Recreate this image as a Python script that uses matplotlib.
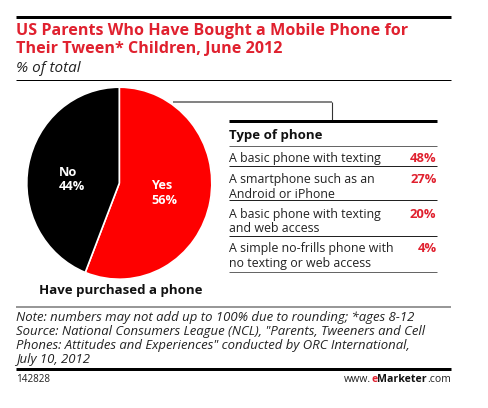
import matplotlib
matplotlib.use("Agg")
import matplotlib.pyplot as plt

W, H = 489, 408
pie_labels = ["Yes", "No"]
pie_values = [56, 44]
pie_colors = ["#fe0000", "#000000"]
phone_types = ["A basic phone with texting",
               "A smartphone such as an\nAndroid or iPhone",
               "A basic phone with texting\nand web access",
               "A simple no-frills phone with\nno texting or web access"]
phone_values = [48, 27, 20, 4]
title_lines = ["US Parents Who Have Bought a Mobile Phone for", "Their Tween* Children, June 2012"]
note_lines = ["Note: numbers may not add up to 100% due to rounding; *ages 8-12",
              "Source: National Consumers League (NCL), \"Parents, Tweeners and Cell",
              "Phones: Attitudes and Experiences\" conducted by ORC International,",
              "July 10, 2012"]

RED = "#e0212f"
TXT = "#222222"
plt.rcParams["font.family"] = ["Open Sans", "DejaVu Sans"]

fig = plt.figure(figsize=(W / 100, H / 100), dpi=100, facecolor="white")
bg = fig.add_axes([0, 0, 1, 1])
bg.set_xlim(0, W)
bg.set_ylim(H, 0)
bg.axis("off")
bg.set_zorder(2)

def hline(x0, x1, y, lw, color="black"):
    bg.plot([x0, x1], [y, y], color=color, lw=lw * 0.72, solid_capstyle="butt")

# frame rules
hline(16, 451, 16.5, 3)
hline(16, 451, 79.5, 1)
hline(16, 451, 306.5, 1.5, "#777777")
hline(16, 451, 368.5, 3)

# title
for i, s in enumerate(title_lines):
    bg.text(16, 35 + i * 17.7, s, color=RED, fontsize=11.6, fontweight="bold", va="baseline", ha="left")
bg.text(16, 72, "% of total", color=TXT, fontsize=11, style="italic", va="baseline", ha="left")

# pie (the reference is slightly taller than wide)
cx, cy, rx, ry = 119.3, 183.2, 92.5, 96
ax = fig.add_axes([(cx - rx) / W, 1 - (cy + ry) / H, 2 * rx / W, 2 * ry / H])
ax.pie(pie_values, colors=pie_colors, startangle=90, counterclock=False, radius=1,
       wedgeprops=dict(edgecolor="white", linewidth=1.2, clip_on=False))
ax.set_xlim(-1, 1)
ax.set_ylim(-1, 1)
ax.set_aspect("auto")
ax.patch.set_alpha(0)

label_pos = [(151, 189.3), (59, 175.7)]
for name, val, (lx, ly) in zip(pie_labels, pie_values, label_pos):
    bg.text(lx, ly, name, color="white", fontsize=9.2, fontweight="bold", ha="left", va="baseline")
    bg.text(lx, ly + 14.8, f"{val}%", color="white", fontsize=9.2, fontweight="bold", ha="left", va="baseline")
bg.text(120.5, 294, "Have purchased a phone", color="#111111", fontsize=9.5, fontweight="bold",
        ha="center", va="baseline")

# connector
bg.plot([173, 332.4], [102, 102], color="#777777", lw=1.3, solid_capstyle="butt")
bg.plot([332.4, 332.4], [101.5, 120], color="#333333", lw=0.8, solid_capstyle="butt")

# table
X0, X1 = 229, 436.5
hline(X0, X1, 121, 3)
bg.text(X0, 139.5, "Type of phone", color="#111111", fontsize=9.5, fontweight="bold", va="baseline")
hline(X0, X1, 145.7, 1, "#666666")
rule_ys = [166.3, 200.3, 235.7, 272]
first_base = [162, 182.7, 217.7, 251.7]
for i, (label, val) in enumerate(zip(phone_types, phone_values)):
    for j, line in enumerate(label.split("\n")):
        bg.text(X0, first_base[i] + j * 14.8, line, color=TXT, fontsize=8.9, va="baseline")
    bg.text(X1, first_base[i], f"{val}%", color=RED, fontsize=9.4, fontweight="bold", ha="right", va="baseline")
    hline(X0, X1, rule_ys[i], 1, "#222222" if i < 3 else "#666666")

# notes
for i, s in enumerate(note_lines):
    bg.text(16, 320.7 + i * 14.2, s, color=TXT, fontsize=9.48, style="italic", va="baseline")
bg.text(16, 382, "142828", color=TXT, fontsize=7.1, va="baseline")
FS = 7.6
t = bg.text(451, 382, ".com", color=TXT, fontsize=FS, ha="right", va="baseline")
fig.canvas.draw()
xr = t.get_window_extent().x0
t2 = bg.annotate("Marketer", xy=(xr, H - 382), xycoords="figure pixels", color="#111111", fontsize=FS,
                 fontweight="bold", ha="right", va="baseline")
xr = t2.get_window_extent().x0
t3 = bg.annotate("e", xy=(xr, H - 382), xycoords="figure pixels", color=RED, fontsize=FS,
                 fontweight="bold", ha="right", va="baseline")
xr = t3.get_window_extent().x0
bg.annotate("www.", xy=(xr, H - 382), xycoords="figure pixels", color=TXT, fontsize=FS, ha="right", va="baseline")

fig.savefig("out.png", dpi=100, facecolor="white")
